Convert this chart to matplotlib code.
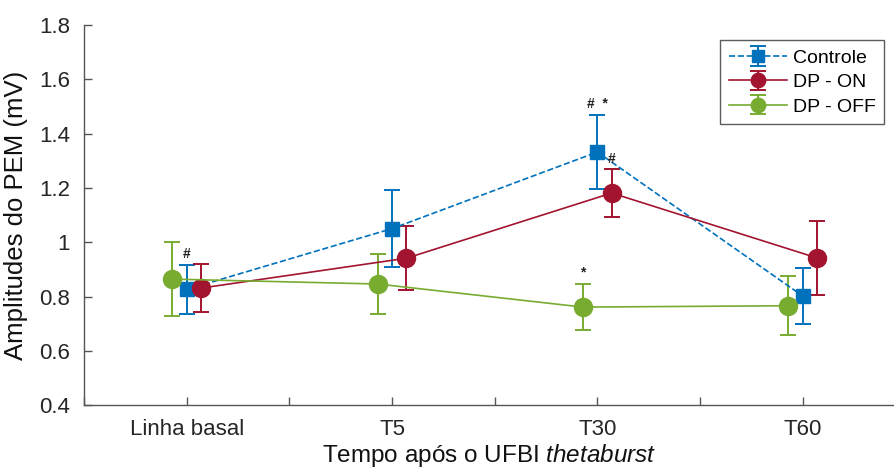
import matplotlib.pyplot as plt
from matplotlib.ticker import FixedLocator

plt.rcParams['font.family'] = ['Liberation Sans', 'DejaVu Sans']
plt.rcParams['mathtext.fontset'] = 'custom'
plt.rcParams['mathtext.rm'] = 'Liberation Sans'
plt.rcParams['mathtext.it'] = 'Liberation Sans:italic'

categorias = ['Linha basal', 'T5', 'T30', 'T60']
posicoes = [1, 2, 3, 4]

controle = [0.826, 1.050, 1.332, 0.802]
controle_err = [0.090, 0.143, 0.136, 0.104]
dp_on = [0.831, 0.941, 1.181, 0.942]
dp_on_err = [0.087, 0.118, 0.090, 0.135]
dp_off = [0.864, 0.846, 0.761, 0.766]
dp_off_err = [0.136, 0.110, 0.086, 0.109]

# marcas de significancia: (grupo, indice do tempo, texto)
marcas = [('controle', 0, '#'), ('controle', 2, '#  *'), ('dp_on', 2, '#'), ('dp_off', 2, '*')]

azul = '#0072BD'
vermelho = '#A2142F'
verde = '#77AC30'

fig = plt.figure(figsize=(8.95, 4.70), dpi=100)
ax = fig.add_axes([0.094, 0.138, 0.906, 0.809])

series = {
    'controle': (controle, controle_err, 0.0, azul, 's', '--', 'Controle', 10),
    'dp_on': (dp_on, dp_on_err, 0.07, vermelho, 'o', '-', 'DP - ON', 13),
    'dp_off': (dp_off, dp_off_err, -0.07, verde, 'o', '-', 'DP - OFF', 13),
}

for chave in ['controle', 'dp_on', 'dp_off']:
    y, err, dx, cor, mk, ls, nome, ms = series[chave]
    x = [p + dx for p in posicoes]
    ax.errorbar(x, y, yerr=err, color=cor, ecolor=cor, elinewidth=1.4,
                capsize=6, capthick=1.4, linestyle=ls, linewidth=1.2,
                marker=mk, markersize=ms, markerfacecolor=cor,
                markeredgecolor=cor, label=nome)

for chave, i, txt in marcas:
    y, err, dx, cor, mk, ls, nome, ms = series[chave]
    xx = posicoes[i] + dx
    folga = 0.01 if chave == 'dp_on' else 0.015
    ax.text(xx, y[i] + err[i] + folga, txt, ha='center', va='bottom',
            fontsize=10, fontweight='bold', color='#222222')

ax.set_xlim(0.5, 4.45)
ax.set_ylim(0.4, 1.8)
ax.xaxis.set_major_locator(FixedLocator([0.5, 1, 1.5, 2, 2.5, 3, 3.5, 4, 4.5]))
ax.set_xticklabels(['', 'Linha basal', '', 'T5', '', 'T30', '', 'T60', ''])
ax.set_yticks([0.4, 0.6, 0.8, 1.0, 1.2, 1.4, 1.6, 1.8])
ax.set_yticklabels(['0.4', '0.6', '0.8', '1', '1.2', '1.4', '1.6', '1.8'])
ax.tick_params(direction='in', length=6, width=1, colors='#555555',
               labelcolor='#262626', labelsize=16, pad=10)

for lado in ['top', 'right']:
    ax.spines[lado].set_visible(False)
for lado in ['left', 'bottom']:
    ax.spines[lado].set_color('#555555')
    ax.spines[lado].set_linewidth(1)

ax.set_ylabel('Amplitudes do PEM (mV)', fontsize=18.5, color='#111111', labelpad=8)
ax.set_xlabel('Tempo após o UFBI $\\it{thetaburst}$', fontsize=17.5,
              color='#111111', labelpad=1.5)

leg = ax.legend(loc='upper right', bbox_to_anchor=(0.999, 0.985), fontsize=14,
                frameon=True, fancybox=False, edgecolor='#333333',
                handlelength=3.0, borderpad=0.45, labelspacing=0.35,
                handletextpad=0.3, markerscale=0.8)
leg.get_frame().set_linewidth(1)

fig.savefig('out.png', dpi=100)
